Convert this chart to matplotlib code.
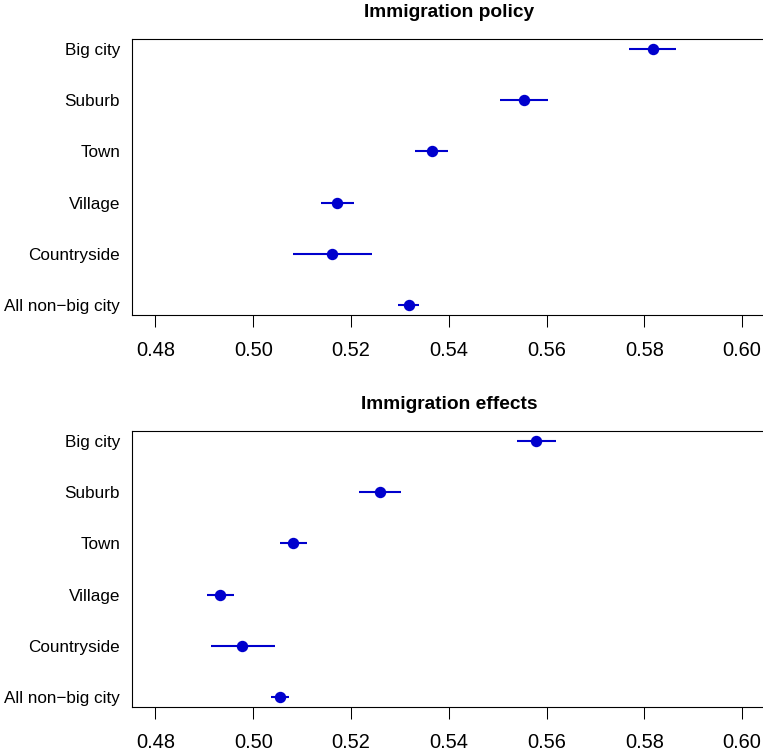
import matplotlib
matplotlib.use("Agg")
import matplotlib.pyplot as plt
import numpy as np

plt.rcParams['font.family'] = ['Liberation Sans', 'DejaVu Sans']

categories = ["Big city", "Suburb", "Town", "Village", "Countryside", "All non\u2212big city"]

# panel 1: immigration policy
policy_est = [0.5817, 0.5554, 0.5365, 0.5172, 0.5162, 0.5318]
policy_lo = [0.5769, 0.5505, 0.5330, 0.5138, 0.5081, 0.5296]
policy_hi = [0.5864, 0.5603, 0.5399, 0.5207, 0.5243, 0.5340]

# panel 2: immigration effects
effects_est = [0.5579, 0.5259, 0.5081, 0.4933, 0.4978, 0.5054]
effects_lo = [0.5539, 0.5217, 0.5054, 0.4905, 0.4913, 0.5036]
effects_hi = [0.5620, 0.5303, 0.5111, 0.4960, 0.5044, 0.5073]

xticks = [0.48, 0.50, 0.52, 0.54, 0.56, 0.58, 0.60]
titles = ["Immigration policy", "Immigration effects"]

col = '#0000CD'


def panel(ax, est, lo, hi, title):
    y = np.arange(len(categories), 0, -1)
    est = np.array(est)
    xerr = [est - np.array(lo), np.array(hi) - est]
    ax.errorbar(est, y, xerr=xerr, fmt='o', color=col, ecolor=col,
                elinewidth=1.5, markersize=7.2, capsize=0, zorder=3)
    ax.set_xlim(0.48 - 0.0048, 0.60 + 0.0048)
    ax.set_ylim(0.8, 6.2)
    ax.set_yticks(y)
    ax.set_yticklabels(categories)
    ax.set_xticks(xticks)
    ax.set_xticklabels(["%.2f" % t for t in xticks])
    ax.tick_params(axis='y', length=0, pad=8.6, labelsize=12.3)
    ax.tick_params(axis='x', length=8.6, width=0.75, pad=10, labelsize=14.4)
    for s in ax.spines.values():
        s.set_linewidth(0.8)
    ax.set_title(title, fontweight='bold', fontsize=13.8, pad=15.8)


fig = plt.figure(figsize=(7.63, 7.54), dpi=100)
ax1 = fig.add_axes([0.1730, 0.5822, 0.8303, 0.3660])
ax2 = fig.add_axes([0.1730, 0.0623, 0.8303, 0.3660])
panel(ax1, policy_est, policy_lo, policy_hi, titles[0])
panel(ax2, effects_est, effects_lo, effects_hi, titles[1])

fig.savefig("out.png", dpi=100)
